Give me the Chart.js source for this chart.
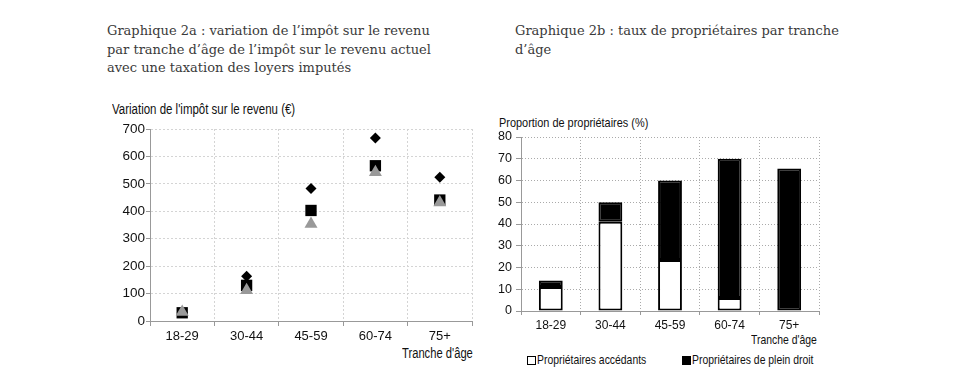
<!DOCTYPE html>
<html lang="fr">
<head>
<meta charset="utf-8">
<script src="https://cdn.jsdelivr.net/npm/chart.js@4.4.1/dist/chart.umd.min.js"></script>
<style>
  html, body { margin: 0; padding: 0; background: #fff; }
  body { width: 970px; height: 383px; position: relative; overflow: hidden; }
  .titre { position: absolute; font-family: "DejaVu Serif", serif; font-size: 13px; line-height: 18.7px; color: #3a3a3a; white-space: nowrap; }
  .lbl { position: absolute; font-family: "Liberation Sans", sans-serif; color: #111; white-space: nowrap; line-height: 1; transform-origin: 0 50%; }
  .box { position: absolute; width: 7px; height: 7px; border: 1px solid #000; }
  canvas { position: absolute; }
</style>
</head>
<body>
<div class="titre" style="left:107px; top:22px;">Graphique 2a : variation de l’impôt sur le revenu<br>par tranche d’âge de l’impôt sur le revenu actuel<br>avec une taxation des loyers imputés</div>
<div class="titre" style="left:515px; top:22px;">Graphique 2b : taux de propriétaires par tranche<br>d’âge</div>

<div class="lbl" style="left:112px; top:102px; font-size:14px; transform:scaleX(0.82);">Variation de l'impôt sur le revenu (€)</div>
<div class="lbl" style="left:402px; top:346px; font-size:14px; transform:scaleX(0.8);">Tranche d'âge</div>
<div class="lbl" style="left:499px; top:116px; font-size:13px; transform:scaleX(0.84);">Proportion de propriétaires (%)</div>
<div class="lbl" style="left:751px; top:333px; font-size:13px; transform:scaleX(0.8);">Tranche d'âge</div>

<div class="box" style="left:527px; top:356px; background:#fff;"></div>
<div class="lbl" style="left:537px; top:353px; font-size:13px; transform:scaleX(0.8);">Propriétaires accédants</div>
<div class="box" style="left:682px; top:356px; background:#000;"></div>
<div class="lbl" style="left:692px; top:353px; font-size:13px; transform:scaleX(0.8);">Propriétaires de plein droit</div>

<div style="position:absolute; left:100px; top:95px; width:380px; height:270px;"><canvas id="g2a"></canvas></div>
<div style="position:absolute; left:490px; top:110px; width:340px; height:230px;"><canvas id="g2b"></canvas></div>

<script>
// tranches d'âge (communes aux deux graphiques)
const tranches = ["18-29", "30-44", "45-59", "60-74", "75+"];

// graphique 2a : variation de l'impôt (€), trois séries de marqueurs
const serieLosange = [32, 163, 483, 667, 524];
const serieCarre = [30, 130, 403, 566, 441];
const serieTriangle = [33, 112, 354, 542, 432];
const ticks2a = [0, 100, 200, 300, 400, 500, 600, 700];

// graphique 2b : proportion de propriétaires (%)
const accedants = [11, 41, 23.5, 6, null];
const pleinDroit = [3, 9, 36.5, 64, 65.5];
const ticks2b = [0, 10, 20, 30, 40, 50, 60, 70, 80];

Chart.defaults.font.family = "'Liberation Sans', sans-serif";
Chart.defaults.color = "#111";

new Chart(document.getElementById("g2a"), {
  type: "line",
  data: {
    labels: tranches,
    datasets: [
      // le premier jeu est dessiné au-dessus
      { label: "Série 3", data: serieTriangle, showLine: false, pointStyle: "triangle",
        pointRadius: 7.5, pointHoverRadius: 7.5, backgroundColor: "#999", borderColor: "#999", borderWidth: 0 },
      { label: "Série 2", data: serieCarre, showLine: false, pointStyle: "rect",
        pointRadius: 8, pointHoverRadius: 8, backgroundColor: "#000", borderColor: "#000", borderWidth: 0 },
      { label: "Série 1", data: serieLosange, showLine: false, pointStyle: "rectRot",
        pointRadius: 5.5, pointHoverRadius: 5.5, backgroundColor: "#000", borderColor: "#000", borderWidth: 0 },
    ],
  },
  options: {
    responsive: true,
    maintainAspectRatio: false,
    animation: false,
    layout: { padding: { top: 34, right: 4, left: 0, bottom: 0 } },
    plugins: { legend: { display: false }, tooltip: { enabled: false } },
    scales: {
      x: {
        offset: true,
        grid: { offset: true, color: "#d4d4d4", tickColor: "#999", tickLength: 5 },
        border: { color: "#999", dash: [2, 2] },
        ticks: { font: { size: 13 }, padding: 3, maxRotation: 0 },
        afterFit: (s) => { s.height = 44; },
      },
      y: {
        min: 0,
        max: 700,
        afterBuildTicks: (s) => { s.ticks = ticks2a.map((v) => ({ value: v })); },
        grid: { color: "#d4d4d4", tickColor: "#999", tickLength: 4 },
        border: { color: "#999", dash: [2, 2] },
        ticks: { font: { size: 13.5 }, padding: 1 },
        afterFit: (s) => { s.width = 50; },
      },
    },
  },
});

new Chart(document.getElementById("g2b"), {
  type: "bar",
  data: {
    labels: tranches,
    datasets: [
      { label: "Propriétaires accédants", data: accedants, backgroundColor: "#fff",
        borderColor: "#000", borderWidth: 2, borderSkipped: false },
      { label: "Propriétaires de plein droit", data: pleinDroit, backgroundColor: "#000",
        borderColor: "#000", borderWidth: 2, borderSkipped: false },
    ],
  },
  options: {
    responsive: true,
    maintainAspectRatio: false,
    animation: false,
    layout: { padding: { top: 27, right: 11, left: 0, bottom: 0 } },
    plugins: { legend: { display: false }, tooltip: { enabled: false } },
    datasets: { bar: { barPercentage: 0.4, categoryPercentage: 1 } },
    scales: {
      x: {
        stacked: true,
        grid: { offset: true, color: "#aaa", tickColor: "#999", tickLength: 4 },
        border: { color: "#999", dash: [1, 2] },
        ticks: { font: { size: 12 }, padding: 3, maxRotation: 0 },
        afterFit: (s) => { s.height = 29; },
      },
      y: {
        stacked: true,
        min: 0,
        max: 80,
        afterBuildTicks: (s) => { s.ticks = ticks2b.map((v) => ({ value: v })); },
        grid: { color: "#aaa", tickColor: "#999", tickLength: 5 },
        border: { color: "#999", dash: [1, 2] },
        ticks: { font: { size: 12.5 }, padding: 4 },
        afterFit: (s) => { s.width = 31; },
      },
    },
  },
});
</script>
</body>
</html>
